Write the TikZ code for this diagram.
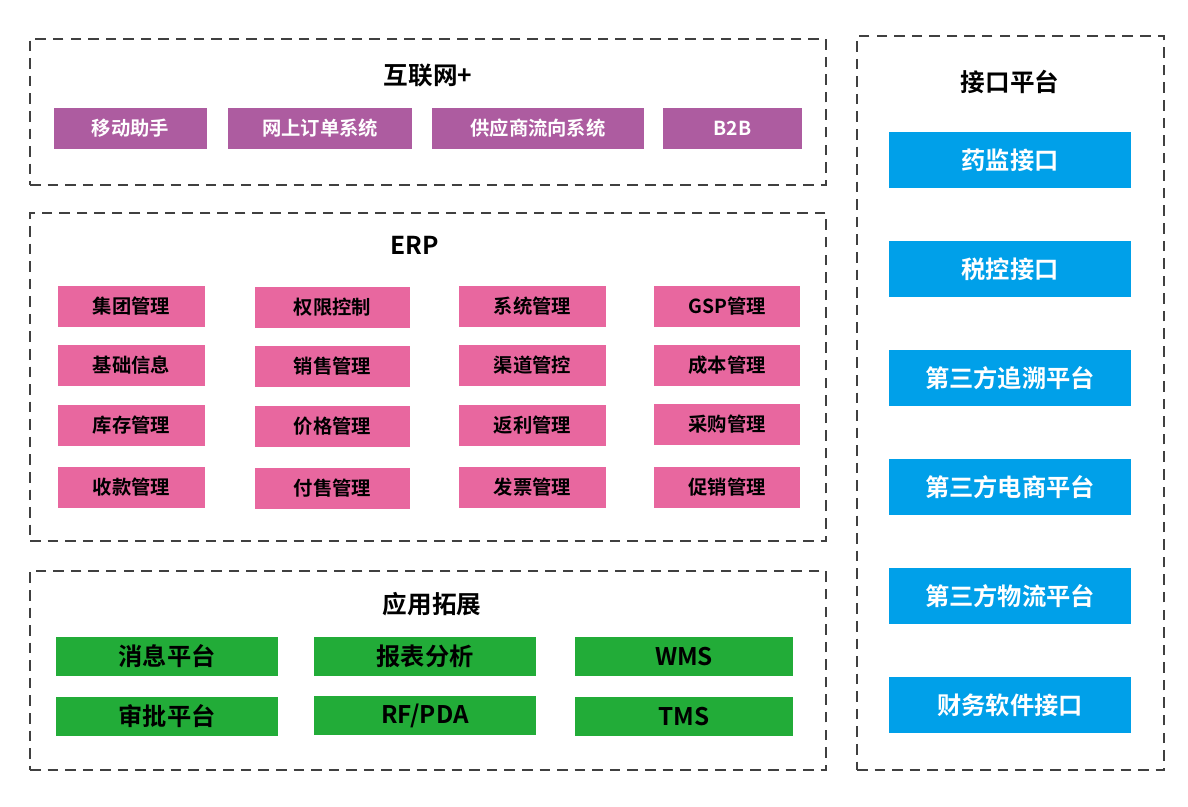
\documentclass[tikz,border=0pt]{standalone}
\usepackage{fontspec}
\setmainfont{Noto Sans CJK SC}
\newfontfamily\cjkbold{Noto Sans CJK SC Bold}
\usetikzlibrary{%
	positioning,%
	calc,%
}
\definecolor{cpurple}{RGB}{173, 92, 160}
\definecolor{cpink}{RGB}{232, 103, 159}
\definecolor{cgreen}{RGB}{34, 172, 56}
\definecolor{cblue}{RGB}{0, 160, 233}
\definecolor{cframe}{RGB}{64, 64, 64}
\tikzset{
	nodes={align=center},%
	frame/.style={%
			draw=cframe,%
			dashed,%
			dash pattern=on 6pt off 4pt,%
			line width=1.1pt,%
			rectangle,%
			inner sep=0,%
			fill=white},%
	title/.style={%
			font={\cjkbold\fontsize{14}{16}\selectfont},%
			text=black},%
	webnode/.style={%
			fill=cpurple,%
			rectangle,%
			inner sep=0,%
			minimum height=0.82cm,%
			text=white,%
			font={\cjkbold\fontsize{11}{12}\selectfont}},%
	erpnode/.style={%
			fill=cpink,%
			rectangle,%
			inner sep=0,%
			minimum width=2.94cm,%
			minimum height=0.82cm,%
			text=black,%
			font={\cjkbold\fontsize{11}{12}\selectfont}},%
	appnode/.style={%
			fill=cgreen,%
			rectangle,%
			inner sep=0,%
			minimum width=4.44cm,%
			minimum height=0.78cm,%
			text=black,%
			font={\cjkbold\fontsize{13.8}{15}\selectfont}},%
	ifnode/.style={%
			fill=cblue,%
			rectangle,%
			inner sep=0,%
			minimum width=4.84cm,%
			minimum height=1.12cm,%
			text=white,%
			font={\cjkbold\fontsize{13.8}{15}\selectfont}},%
}

\begin{document}
\begin{tikzpicture}[x=0.02cm, y=-0.02cm]%
	\useasboundingbox (0,0) rectangle (1188,807);

	% frames
	\node[frame, minimum width=15.92cm, minimum height=2.92cm] (fweb) at (428,112) {};
	\node[frame, minimum width=15.92cm, minimum height=6.56cm] (ferp) at (428,377) {};
	\node[frame, minimum width=15.92cm, minimum height=3.98cm] (fapp) at (428,670.5) {};
	\node[frame, minimum width=6.14cm, minimum height=14.68cm] (fif) at (1010.5,403) {};

	% internet +
	\node[title] (tweb) at (428,75) {互联网+};
	\node[webnode, minimum width=3.06cm] (mobile) at (130.5,128.5) {移动助手};
	\node[webnode, minimum width=3.68cm] (order) at (320,128.5) {网上订单系统};
	\node[webnode, minimum width=4.24cm] (supply) at (538,128.5) {供应商流向系统};
	\node[webnode, minimum width=2.78cm] (btob) at (732.5,128.5) {B2B};

	% ERP
	\node[title] (terp) at (415,245) {ERP};
	\node[erpnode] (group) at (131.5,306.5) {集团管理};
	\node[erpnode, minimum width=3.1cm] (perm) at (332.5,307.5) {权限控制};
	\node[erpnode] (sys) at (532.5,306.5) {系统管理};
	\node[erpnode] (gsp) at (727,306.5) {GSP管理};
	\node[erpnode] (base) at (131.5,365.5) {基础信息};
	\node[erpnode, minimum width=3.1cm] (sales) at (332.5,366.5) {销售管理};
	\node[erpnode] (channel) at (532.5,365.5) {渠道管控};
	\node[erpnode] (cost) at (727,365.5) {成本管理};
	\node[erpnode] (stock) at (131.5,425.5) {库存管理};
	\node[erpnode, minimum width=3.1cm] (price) at (332.5,426.5) {价格管理};
	\node[erpnode] (rebate) at (532.5,425.5) {返利管理};
	\node[erpnode] (purchase) at (727,424.5) {采购管理};
	\node[erpnode] (receipt) at (131.5,487.5) {收款管理};
	\node[erpnode, minimum width=3.1cm] (payout) at (332.5,488.5) {付售管理};
	\node[erpnode] (invoice) at (532.5,487.5) {发票管理};
	\node[erpnode] (promo) at (727,487.5) {促销管理};

	% apps
	\node[title] (tapp) at (432,604) {应用拓展};
	\node[appnode] (msg) at (167,656.5) {消息平台};
	\node[appnode] (report) at (425,656.5) {报表分析};
	\node[appnode, minimum width=4.36cm] (wms) at (684,656.5) {WMS};
	\node[appnode] (approve) at (167,716.5) {审批平台};
	\node[appnode] (rfpda) at (425,715.5) {RF/PDA};
	\node[appnode, minimum width=4.36cm] (tms) at (684,716.5) {TMS};

	% interfaces
	\node[title] (tif) at (1010,82) {接口平台};
	\node[ifnode] (drug) at (1010,160) {药监接口};
	\node[ifnode] (tax) at (1010,269) {税控接口};
	\node[ifnode] (trace) at (1010,378) {第三方追溯平台};
	\node[ifnode] (ecom) at (1010,487) {第三方电商平台};
	\node[ifnode] (logis) at (1010,596) {第三方物流平台};
	\node[ifnode] (fin) at (1010,705) {财务软件接口};
\end{tikzpicture}
\end{document}
